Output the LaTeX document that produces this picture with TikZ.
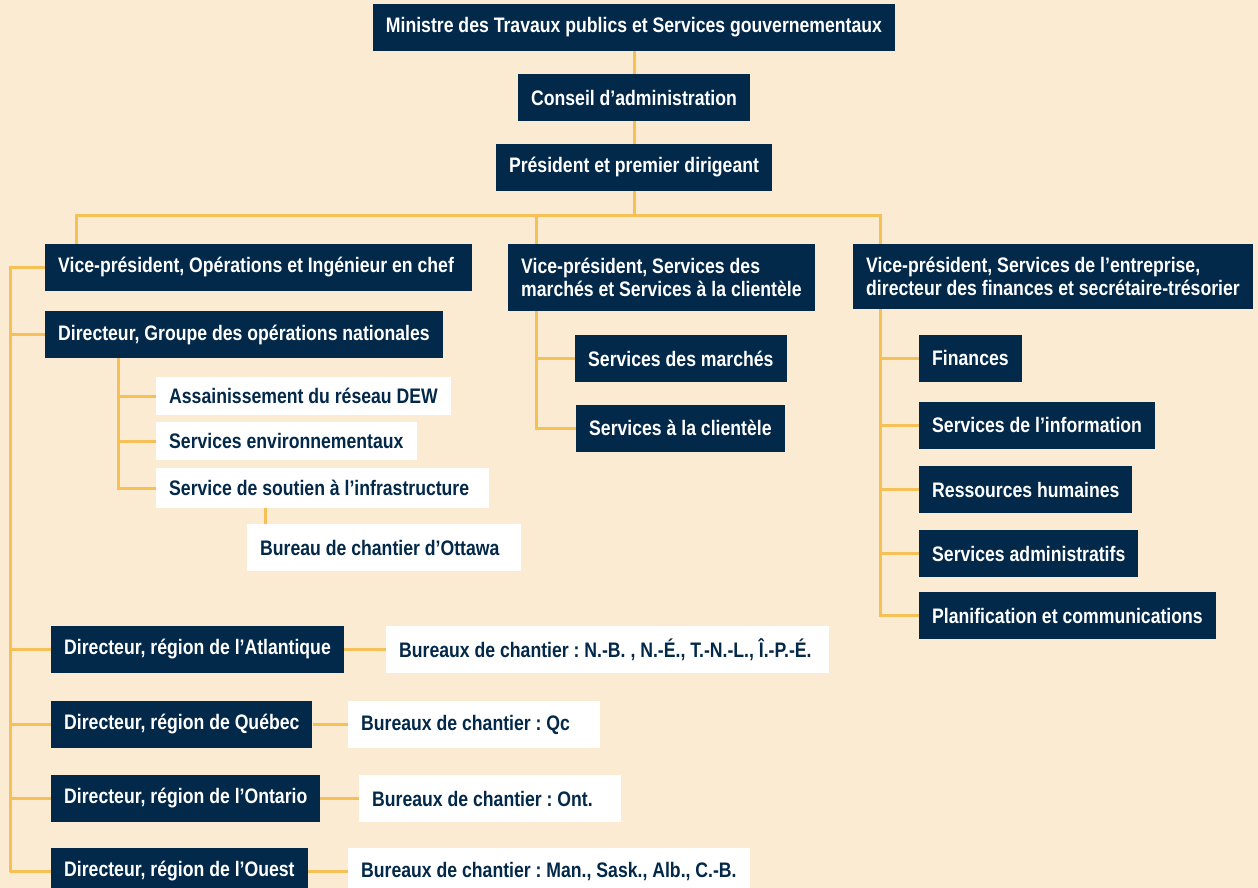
\documentclass[tikz,border=0pt]{standalone}
\usepackage{fontspec}
\setmainfont{Liberation Sans}[FakeStretch=0.84]
\frenchspacing
\usetikzlibrary{calc}
\definecolor{navy}{HTML}{02284A}
\definecolor{paper}{HTML}{FCEBD3}
\definecolor{rule}{HTML}{F5C157}
\newcommand{\padbox}[2]{\makebox[#1][l]{#2}}
\tikzset{
	box/.style={fill=navy,text=white,font=\bfseries\fontsize{21}{23}\selectfont,
		inner xsep=13pt,inner ysep=0pt,minimum height=47pt,anchor=west,align=left},
	wbox/.style={box,fill=white,text=navy},
	link/.style={draw=rule,line width=3pt}
}
\begin{document}
\begin{tikzpicture}[x=1pt,y=-1pt]
		% Page
		\fill[paper] (0,0) rectangle (1258,888);
		\useasboundingbox (0,0) rectangle (1258,888);
		% Top of the chart
		\node[box,anchor=center] (min) at (634,27.5) {Ministre des Travaux publics et Services gouvernementaux};
		\node[box,anchor=center] (conseil) at (634,97.5) {Conseil d’administration};
		\node[box,anchor=center] (pres) at (634,167.5) {Président et premier dirigeant};
		% Vice-presidents
		\node[box] (vpops) at (45,267.5) {\padbox{401pt}{Vice-président, Opérations et Ingénieur en chef}};
		\node[box,minimum height=67pt] (vpmar) at (508,277.5) {Vice-président, Services des\\marchés et Services à la clientèle};
		\node[box,minimum height=65pt] (vpent) at (853,276.5) {Vice-président, Services de l’entreprise,\\directeur des finances et secrétaire-trésorier};
		% Operations branch
		\node[box] (dirgn) at (45,334.5) {Directeur, Groupe des opérations nationales};
		\node[wbox,minimum height=38pt] (dew) at (156,396) {Assainissement du réseau DEW};
		\node[wbox,minimum height=38pt] (envir) at (156,441) {Services environnementaux};
		\node[wbox,minimum height=40pt] (soutien) at (156,488) {\padbox{307pt}{Service de soutien à l’infrastructure}};
		\node[wbox] (ottawa) at (247,547.5) {\padbox{248pt}{Bureau de chantier d’Ottawa}};
		% Regions
		\node[box] (dirat) at (51,649.5) {Directeur, région de l’Atlantique};
		\node[wbox] (burat) at (386,649.5) {\padbox{417pt}{Bureaux de chantier : N.-B. , N.-É., T.-N.-L., Î.-P.-É.}};
		\node[box] (dirqc) at (51,724.5) {Directeur, région de Québec};
		\node[wbox] (burqc) at (348,724.5) {\padbox{226pt}{Bureaux de chantier : Qc}};
		\node[box] (diron) at (51,798.5) {Directeur, région de l’Ontario};
		\node[wbox] (buron) at (359,798.5) {\padbox{236pt}{Bureaux de chantier : Ont.}};
		\node[box] (dirou) at (51,871.5) {Directeur, région de l’Ouest};
		\node[wbox] (burou) at (348,871.5) {Bureaux de chantier : Man., Sask., Alb., C.-B.};
		% Markets branch
		\node[box] (march) at (575,358.5) {Services des marchés};
		\node[box] (client) at (576,428) {Services à la clientèle};
		% Corporate branch
		\node[box] (fin) at (919,358) {Finances};
		\node[box] (info) at (919,425) {Services de l’information};
		\node[box] (rh) at (919,489.5) {Ressources humaines};
		\node[box] (admin) at (919,553.5) {Services administratifs};
		\node[box] (plan) at (919,615.5) {Planification et communications};
		% Trunk
		\coordinate (bar) at (634,215);
		\draw[link] (min) -- (conseil);
		\draw[link] (conseil) -- (pres);
		\draw[link] (pres) -- (bar);
		\draw[link] ([xshift=31pt]vpops.north west) |- (bar) -| ([xshift=27pt]vpent.north west);
		\draw[link] ([xshift=28pt]vpmar.north west) |- (bar);
		% Left spine
		\coordinate (sp) at (10,0);
		\draw[link] (vpops.west) -| (sp |- dirou.west);
		\foreach \n in {dirgn,dirat,dirqc,diron,dirou}{
				\draw[link] (sp |- \n.west) -- (\n.west);
			}
		\foreach \a/\b in {dirat/burat,dirqc/burqc,diron/buron,dirou/burou}{
				\draw[link] (\a) -- (\b);
			}
		% Operations group
		\coordinate (gn) at ([xshift=73pt]dirgn.south west);
		\draw[link] (gn) |- (soutien.west);
		\foreach \n in {dew,envir}{
				\draw[link] (gn |- \n.west) -- (\n.west);
			}
		\coordinate (ot) at ([xshift=18pt]ottawa.north west);
		\draw[link] (ot) -- (ot |- soutien.south);
		% Markets
		\coordinate (mk) at ([xshift=28pt]vpmar.south west);
		\draw[link] (mk) |- (client.west);
		\draw[link] (mk |- march.west) -- (march.west);
		% Corporate
		\coordinate (en) at ([xshift=27pt]vpent.south west);
		\draw[link] (en) |- (plan.west);
		\foreach \n in {fin,info,rh,admin}{
				\draw[link] (en |- \n.west) -- (\n.west);
			}
	\end{tikzpicture}
\end{document}
